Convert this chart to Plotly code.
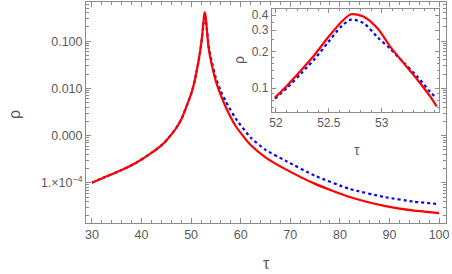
import plotly.graph_objects as go

# ---- main panel data ----
tau_main = [30, 33, 36, 39, 42, 44, 45, 46, 47, 48, 49, 50, 50.5, 51, 51.5, 52, 52.3, 52.5, 52.7,
            52.9, 53.2, 53.5, 54, 55, 56, 57, 59, 62, 65, 69, 75, 82, 89, 95, 100]
rho_red = [1.0e-4, 1.38e-4, 1.86e-4, 2.69e-4, 4.3e-4, 6.2e-4, 7.9e-4, 1.05e-3, 1.45e-3, 2.19e-3,
           3.98e-3, 7.6e-3, 0.0117, 0.020, 0.038, 0.083, 0.158, 0.263, 0.407,
           0.347, 0.166, 0.076, 0.038, 0.0141, 7.1e-3, 3.98e-3, 1.58e-3, 6.3e-4,
           3.47e-4, 1.95e-4, 9.5e-5, 5.0e-5, 3.24e-5, 2.57e-5, 2.29e-5]
rho_blue = [1.0e-4, 1.38e-4, 1.86e-4, 2.69e-4, 4.3e-4, 6.2e-4, 7.9e-4, 1.05e-3, 1.45e-3, 2.19e-3,
            3.98e-3, 7.6e-3, 0.0117, 0.020, 0.038, 0.081, 0.148, 0.240, 0.372,
            0.316, 0.174, 0.081, 0.0437, 0.0166, 8.7e-3, 5.25e-3, 2.29e-3, 9.1e-4,
            5.0e-4, 2.95e-4, 1.41e-4, 7.4e-5, 5.0e-5, 3.98e-5, 3.55e-5]

# ---- inset data ----
tau_zoom = [51.99, 52.11, 52.24, 52.37, 52.49, 52.62, 52.71, 52.83, 52.96, 53.08,
            53.21, 53.34, 53.46, 53.52]
rho_red_zoom = [0.0838, 0.1064, 0.1413, 0.1905, 0.260, 0.352, 0.406, 0.387, 0.311,
                0.220, 0.160, 0.117, 0.0853, 0.0708]
rho_blue_zoom = [0.0822, 0.102, 0.133, 0.176, 0.237, 0.324, 0.366, 0.342, 0.263,
                 0.211, 0.162, 0.124, 0.093, 0.083]

# ---- tick labels ----
main_y_ticks = [0.1, 0.01, 0.001, 1e-4]
main_y_text = ["0.100", "0.010", "0.000", "1.\u00d710<sup>\u22124</sup>"]
main_x_ticks = [30, 40, 50, 60, 70, 80, 90, 100]
inset_x_ticks = [52, 52.5, 53]
inset_x_text = ["52", "52.5", "53"]
inset_y_ticks = [0.1, 0.2, 0.3, 0.4]
inset_y_text = ["0.1", "0.2", "0.3", "0.4"]

RED = "#FF0000"
BLUE = "#0000FF"
AX = "#8c8c8c"
TXT = "#5a5a5a"
FONT = "Liberation Sans, Arial, sans-serif"

fig = go.Figure()
fig.add_trace(go.Scatter(x=tau_main, y=rho_blue, mode="lines",
                         line=dict(color=BLUE, width=2.2, dash="dot", shape="spline", smoothing=0.5),
                         xaxis="x", yaxis="y", showlegend=False))
fig.add_trace(go.Scatter(x=tau_main, y=rho_red, mode="lines",
                         line=dict(color=RED, width=2.2, shape="spline", smoothing=0.5),
                         xaxis="x", yaxis="y", showlegend=False))
fig.add_trace(go.Scatter(x=tau_zoom, y=rho_blue_zoom, mode="lines",
                         line=dict(color=BLUE, width=2.2, dash="dot", shape="spline", smoothing=0.8),
                         xaxis="x2", yaxis="y2", showlegend=False))
fig.add_trace(go.Scatter(x=tau_zoom, y=rho_red_zoom, mode="lines",
                         line=dict(color=RED, width=2.2, shape="spline", smoothing=0.8),
                         xaxis="x2", yaxis="y2", showlegend=False))

main_y_minor = [m * 10 ** e for e in range(-5, 0) for m in range(2, 10)]
inset_y_minor = [0.07, 0.08, 0.09, 0.12, 0.14, 0.16, 0.18, 0.25, 0.35]

common = dict(showgrid=False, zeroline=False, showline=True, linecolor=AX, linewidth=1,
              mirror="allticks", ticks="inside", tickcolor=AX, tickwidth=1, automargin=False,
              tickfont=dict(family=FONT, size=12.5, color=TXT))
inset_font = dict(family=FONT, size=12, color=TXT)

def label(text, x, y, size, angle=0):
    return dict(text=text, x=x, y=y, xref="paper", yref="paper", showarrow=False,
                xanchor="center", yanchor="middle", textangle=angle,
                font=dict(family=FONT, size=size, color=TXT))

fig.update_layout(
    width=452, height=274,
    margin=dict(l=86, r=6, t=2, b=51),
    paper_bgcolor="white", plot_bgcolor="white",
    xaxis=dict(range=[28.8, 101.4], tickvals=main_x_ticks, ticklen=5,
               minor=dict(dtick=2, tick0=30, ticklen=3, tickcolor=AX, ticks="inside"),
               domain=[0, 1], anchor="y", **common),
    yaxis=dict(type="log", range=[-4.851, -0.17], tickvals=main_y_ticks, ticktext=main_y_text,
               ticklen=5, minor=dict(tickvals=main_y_minor, ticklen=3, tickcolor=AX, ticks="inside"),
               domain=[0, 1], anchor="x", **common),
    xaxis2=dict(range=[51.96, 53.54], tickvals=inset_x_ticks, ticktext=inset_x_text, ticklen=4,
                minor=dict(dtick=0.1, tick0=52, ticklen=2, tickcolor=AX, ticks="inside"),
                domain=[0.516, 0.980], anchor="y2", **{**common, "tickfont": inset_font}),
    yaxis2=dict(type="log", range=[-1.192, -0.351], tickvals=inset_y_ticks, ticktext=inset_y_text,
                ticklen=4, minor=dict(tickvals=inset_y_minor, ticklen=2, tickcolor=AX, ticks="inside"),
                domain=[0.504, 0.967], anchor="x2", **{**common, "tickfont": inset_font}),
    annotations=[
        label("\u03c1", -0.197, 0.489, 16, -90),
        label("\u03c4", 0.502, -0.181, 16),
        label("\u03c1", 0.425, 0.738, 14, -90),
        label("\u03c4", 0.753, 0.330, 14),
    ],
)

fig.write_html("out.html", config={"displayModeBar": False},
               post_script="document.body.style.margin='0px';")
